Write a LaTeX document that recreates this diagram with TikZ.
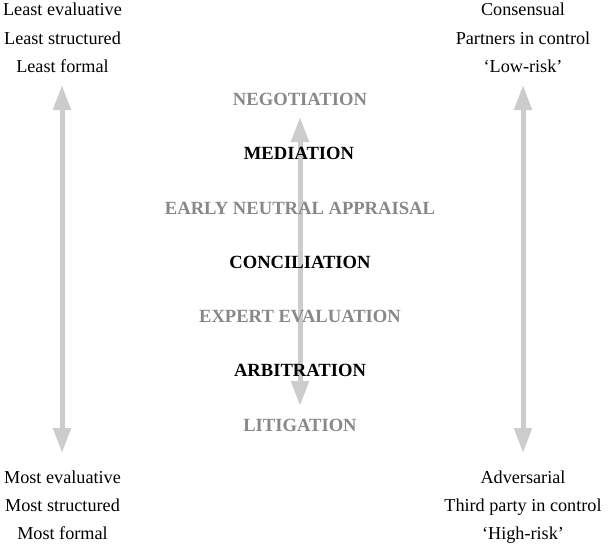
\documentclass[tikz,border=0pt]{standalone}
\usepackage{fontspec}
\setmainfont{Liberation Serif}
\usetikzlibrary{arrows.meta}
\definecolor{arrowgray}{HTML}{CCCCCC}
\definecolor{labelgray}{HTML}{888888}
\tikzset{
  sidetext/.style={anchor=base, inner sep=0pt, font=\fontsize{18.2}{20}\selectfont, text=black},
  darklabel/.style={anchor=base, inner sep=0pt, font=\fontsize{18.6}{20}\selectfont\bfseries, text=black},
  greylabel/.style={anchor=base, inner sep=0pt, font=\fontsize{18.6}{20}\selectfont\bfseries, text=labelgray},
  bigarrow/.style={draw=arrowgray, line width=5pt, {Triangle[width=17pt,length=25pt]}-{Triangle[width=17pt,length=25pt]}, shorten <=0pt, shorten >=0pt},
}
\begin{document}
\begin{tikzpicture}[x=1pt,y=-1pt]
\useasboundingbox (0,0) rectangle (611,546);
% arrow end points
\coordinate (lt) at (62,85);
\coordinate (lb) at (62,453);
\coordinate (rt) at (523,85);
\coordinate (rb) at (523,453);
\coordinate (mt) at (300,117);
\coordinate (mb) at (300,406);
\draw[bigarrow] (lt) -- (lb);
\draw[bigarrow] (rt) -- (rb);
\draw[bigarrow] (mt) -- (mb);
% left column
\node[sidetext] (l1) at (62.5,16) {Least evaluative};
\node[sidetext] (l2) at (62.5,44) {Least structured};
\node[sidetext] (l3) at (62.5,72) {Least formal};
\node[sidetext] (l4) at (62.5,483) {Most evaluative};
\node[sidetext] (l5) at (62.5,511) {Most structured};
\node[sidetext] (l6) at (62.5,539) {Most formal};
% right column
\node[sidetext] (r1) at (523,16) {Consensual};
\node[sidetext] (r2) at (523,44) {Partners in control};
\node[sidetext] (r3) at (523,72) {`Low-risk'};
\node[sidetext] (r4) at (523,483) {Adversarial};
\node[sidetext] (r5) at (523,511) {Third party in control};
\node[sidetext] (r6) at (523,539) {`High-risk'};
% middle labels
\node[greylabel] (neg) at (300,105) {NEGOTIATION};
\node[darklabel] (med) at (299,159) {MEDIATION};
\node[greylabel] (ena) at (300,214) {EARLY NEUTRAL APPRAISAL};
\node[darklabel] (con) at (300,268) {CONCILIATION};
\node[greylabel] (exp) at (300,322) {EXPERT EVALUATION};
\node[darklabel] (arb) at (300,376) {ARBITRATION};
\node[greylabel] (lit) at (300,431) {LITIGATION};
\end{tikzpicture}
\end{document}
